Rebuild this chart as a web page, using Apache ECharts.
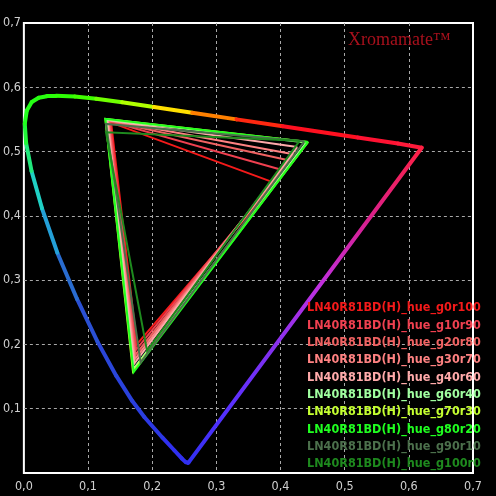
<!DOCTYPE html>
<html><head><meta charset="utf-8">
<script src="https://cdn.jsdelivr.net/npm/echarts@6/dist/echarts.min.js"></script>
<style>html,body{margin:0;padding:0;background:#000}#c{width:496px;height:496px}</style>
</head><body><div id="c"></div>
<script>
// ---- data ----
const tickLabels = ['0,0','0,1','0,2','0,3','0,4','0,5','0,6','0,7'];
const titleText = 'Xromamate\u2122';
const seriesNames = [
  'LN40R81BD(H)_hue_g0r100','LN40R81BD(H)_hue_g10r90','LN40R81BD(H)_hue_g20r80',
  'LN40R81BD(H)_hue_g30r70','LN40R81BD(H)_hue_g40r60','LN40R81BD(H)_hue_g60r40',
  'LN40R81BD(H)_hue_g70r30','LN40R81BD(H)_hue_g80r20','LN40R81BD(H)_hue_g90r10',
  'LN40R81BD(H)_hue_g100r0'
];
// primaries (u', v') for each series
const redU   = [0.392,0.404,0.414,0.420,0.426,0.440,0.443,0.443,0.437,0.430];
const redV   = [0.451,0.471,0.486,0.496,0.507,0.514,0.515,0.515,0.516,0.517];
const greenU = [0.136,0.134,0.132,0.131,0.130,0.128,0.127,0.127,0.128,0.128];
const greenV = [0.545,0.547,0.548,0.549,0.549,0.550,0.551,0.551,0.543,0.530];
const blueU  = [0.176,0.175,0.174,0.173,0.172,0.171,0.170,0.171,0.182,0.192];
const blueV  = [0.200,0.192,0.184,0.177,0.170,0.162,0.158,0.157,0.172,0.190];
// spectral locus (CIE 1976 u'v')
const locusNm = [380,400,420,430,440,450,460,465,470,475,480,485,490,495,500,505,510,515,520,525,530,540,550,560,570,580,590,600,620,640,700];
const locusU  = [0.2568,0.2557,0.2522,0.2461,0.2347,0.2161,0.1877,0.1690,0.1441,0.1147,0.0828,0.0521,0.0282,0.0119,0.0035,0.0014,0.0046,0.0123,0.0231,0.0360,0.0501,0.0792,0.1127,0.1531,0.2026,0.2623,0.3315,0.4035,0.5203,0.5830,0.6200];
const locusV  = [0.0166,0.0159,0.0169,0.0226,0.0350,0.0549,0.0871,0.1119,0.1510,0.2044,0.2708,0.3427,0.4117,0.4698,0.5131,0.5432,0.5638,0.5770,0.5837,0.5861,0.5868,0.5856,0.5821,0.5766,0.5694,0.5604,0.5501,0.5393,0.5219,0.5125,0.5060];

// ---- styles ----
const seriesColors = ['#f41a1a','#f04050','#f06262','#ff8282','#ffaaaa','#a0ffa0','#c4ff30','#20ff20','#4c704c','#1e8a1e'];
const locusStops = [[380,'#3030f0'],[445,'#3030f0'],[460,'#2a3ce0'],[475,'#2a48d8'],[480,'#2a58d0'],[485,'#2880d0'],[490,'#20c0e0'],[495,'#20e0a8'],[500,'#20f050'],[505,'#20ff20'],[540,'#30ff00'],[550,'#50ff00'],[560,'#90ff00'],[570,'#d0ff00'],[575,'#ffe000'],[580,'#ffb000'],[585,'#ff8000'],[590,'#ff4010'],[600,'#ff1010'],[620,'#ff1030'],[700,'#ff2040']];
function hex2rgb(h){return [parseInt(h.substr(1,2),16),parseInt(h.substr(3,2),16),parseInt(h.substr(5,2),16)];}
function nmColor(nm){
  for(let i=0;i<locusStops.length-1;i++){
    const a=locusStops[i],b=locusStops[i+1];
    if(nm>=a[0]&&nm<=b[0]){
      const t=(nm-a[0])/(b[0]-a[0]);const ca=hex2rgb(a[1]),cb=hex2rgb(b[1]);
      const c=ca.map((v,k)=>Math.round(v+(cb[k]-v)*t));
      return 'rgb('+c.join(',')+')';
    }
  }
  return locusStops[locusStops.length-1][1];
}

const locusSegments = [];
for(let i=0;i<locusNm.length-1;i++){
  locusSegments.push({
    coords:[[locusU[i],locusV[i]],[locusU[i+1],locusV[i+1]]],
    lineStyle:{color:nmColor((locusNm[i]+locusNm[i+1])/2)}
  });
}
const last = locusNm.length-1;

const series = [
  {type:'lines',coordinateSystem:'cartesian2d',polyline:false,silent:true,z:2,
   lineStyle:{width:4,opacity:1,cap:'round',join:'round'},data:locusSegments},
  {type:'line',silent:true,showSymbol:false,symbol:'none',z:2,
   data:[[locusU[last],locusV[last]],[locusU[0],locusV[0]]],
   lineStyle:{width:4,cap:'round',color:{type:'linear',x:0,y:0,x2:0,y2:1,colorStops:[
     {offset:0,color:'#ff2040'},{offset:0.24,color:'#d82090'},{offset:0.44,color:'#c030e0'},
     {offset:0.65,color:'#8030f0'},{offset:0.82,color:'#5830ff'},{offset:1,color:'#3030f0'}]}}}
];
seriesNames.forEach((n,i)=>{
  series.push({
    name:n,type:'line',symbol:'none',showSymbol:false,silent:true,z:3,
    itemStyle:{color:seriesColors[i]},
    lineStyle:{width:2,color:seriesColors[i],join:'miter'},
    data:[[redU[i],redV[i]],[greenU[i],greenV[i]],[blueU[i],blueV[i]],[redU[i],redV[i]]]
  });
});

const axisCommon = {
  type:'value',min:0,max:0.7,interval:0.1,
  axisLine:{show:false},axisTick:{show:false},
  splitLine:{show:true,showMinLine:false,showMaxLine:false,lineStyle:{color:'#a8a8a8',type:[3,3],width:1}},
  axisLabel:{color:'#d0d0d0',fontSize:12.5,fontFamily:'DejaVu Sans Condensed',
    formatter:v=>tickLabels[Math.round(v*10)]}
};

const chart = echarts.init(document.getElementById('c'),null,{renderer:'canvas'});
chart.setOption({
  backgroundColor:'#000',
  animation:false,
  title:{text:titleText,left:348,top:31,padding:0,
    textStyle:{color:'#a8101c',fontFamily:'Liberation Serif',fontSize:18,fontWeight:'normal'}},
  legend:{orient:'vertical',left:302,top:299.5,padding:0,itemGap:0.35,itemWidth:0,itemHeight:17,
    icon:'rect',selectedMode:false,
    textStyle:{fontFamily:'DejaVu Sans Condensed',fontWeight:'bold',fontSize:12.5,lineHeight:17},
    data:seriesNames.map((n,i)=>({name:n,textStyle:{color:seriesColors[i]}}))},
  grid:{left:23,right:23,top:23,bottom:23,show:true,borderColor:'#ffffff',borderWidth:2,backgroundColor:'transparent'},
  xAxis:Object.assign({},axisCommon,{axisLabel:Object.assign({},axisCommon.axisLabel,{margin:7})}),
  yAxis:Object.assign({},axisCommon,{axisLabel:Object.assign({},axisCommon.axisLabel,{margin:3,showMinLabel:false})}),
  series:series
});
</script></body></html>
